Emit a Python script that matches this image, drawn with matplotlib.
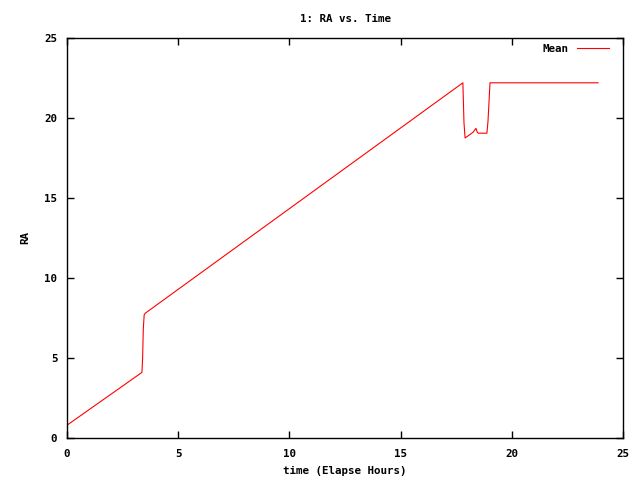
import matplotlib
matplotlib.use('Agg')
import matplotlib.pyplot as plt

# time (elapsed hours) and RA values
t = [0.0, 3.37, 3.40, 3.43, 3.47, 3.52, 17.80, 17.85, 17.90, 18.25, 18.39, 18.45, 18.50,
     18.57, 18.88, 18.93, 19.02, 23.88]
ra = [0.8, 4.1, 5.0, 6.8, 7.7, 7.8, 22.2, 19.7, 18.75, 19.1, 19.35, 19.1, 19.05,
      19.05, 19.05, 19.8, 22.2, 22.2]

plt.rcParams['font.family'] = 'DejaVu Sans Mono'
plt.rcParams['font.weight'] = 'bold'
plt.rcParams['font.size'] = 7.8

fig = plt.figure(figsize=(6.4, 4.8), dpi=100)
ax = fig.add_axes([67/640, 42/480, 556/640, 400/480])

ax.plot(t, ra, color='red', lw=0.8, label='Mean')

ax.set_xlim(0, 25)
ax.set_ylim(0, 25)
ax.set_xticks([0, 5, 10, 15, 20, 25])
ax.set_yticks([0, 5, 10, 15, 20, 25])
ax.tick_params(axis='x', direction='in', top=True, length=5, width=1, pad=8)
ax.tick_params(axis='y', direction='in', right=True, length=5, width=1, pad=7)
for s in ax.spines.values():
    s.set_linewidth(1)

ax.set_xlabel('time (Elapse Hours)', fontweight='bold', labelpad=5)
ax.set_ylabel('RA', fontweight='bold', labelpad=10)
ax.set_title('1: RA vs. Time', fontweight='bold', fontsize=7.8, pad=11.5)

leg = ax.legend(loc='upper right', frameon=False, handlelength=3.0,
                markerfirst=False, borderaxespad=0.0, handletextpad=0.8,
                bbox_to_anchor=(0.983, 0.997))

fig.savefig('out.png', dpi=100)
